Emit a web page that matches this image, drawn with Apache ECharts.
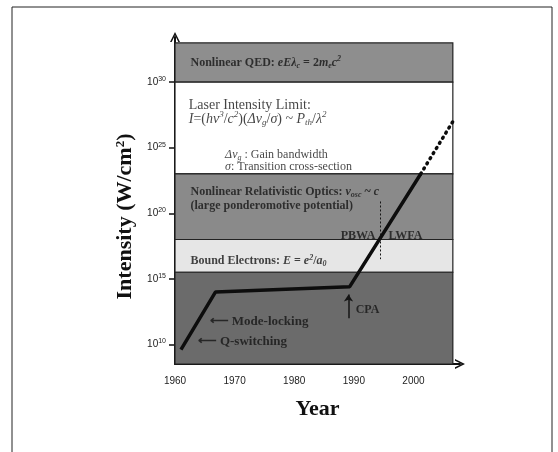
<!DOCTYPE html>
<html>
<head>
<meta charset="utf-8">
<script src="https://cdn.jsdelivr.net/npm/echarts@6/dist/echarts.min.js"></script>
<style>
html, body { margin: 0; padding: 0; background: #fff; }
#chart { width: 558px; height: 452px; }
</style>
</head>
<body>
<div id="chart"></div>
<script>
// focused laser intensity vs year (log10 of W/cm^2)
const lineYears = [1961, 1966.8, 1989.3, 2001.2];
const lineLogI = [9.6, 14.0, 14.4, 23.0];
// dotted projection
const projYears = [2001.2, 2006.6];
const projLogI = [23.0, 27.0];

// physics regimes (log10 of W/cm^2)
const bandLow = [30, 23, 18, 15.5, 8.5];
const bandHigh = [33, 30, 23, 18, 15.5];
const bandEnd = 2006.6;

const yTicks = [10, 15, 20, 25, 30];
const xTicks = [1960, 1970, 1980, 1990, 2000];

// small pointers
const cpaArrowYear = 1989.1;
const cpaArrowLogI = [12.0, 13.8];
const lwfaYear = 1994.4;
const lwfaLogI = [20.9, 16.5];

const bandColors = ['#8e8e8e', '#ffffff', '#8a8a8a', '#e6e6e6', '#6b6b6b'];
const serif = 'Liberation Serif';
const ink = '#151515';

const chart = echarts.init(document.getElementById('chart'));

const rich = {
    b: { fontFamily: serif, fontWeight: 'bold', fontSize: 12, color: ink },
    b13: { fontFamily: serif, fontWeight: 'bold', fontSize: 13, color: ink },
    bi: { fontFamily: serif, fontWeight: 'bold', fontStyle: 'italic', fontSize: 12, color: ink },
    bis: { fontFamily: serif, fontWeight: 'bold', fontStyle: 'italic', fontSize: 8, color: ink, padding: [6, 0, 0, 0] },
    bisup: { fontFamily: serif, fontWeight: 'bold', fontStyle: 'italic', fontSize: 8, color: ink, padding: [0, 0, 7, 0] },
    r: { fontFamily: serif, fontSize: 14, color: ink },
    i: { fontFamily: serif, fontStyle: 'italic', fontSize: 14, color: ink },
    isub: { fontFamily: serif, fontStyle: 'italic', fontSize: 9, color: ink, padding: [7, 0, 0, 0] },
    isup: { fontFamily: serif, fontStyle: 'italic', fontSize: 9, color: ink, padding: [0, 0, 8, 0] },
    s: { fontFamily: serif, fontSize: 12, color: ink },
    si: { fontFamily: serif, fontStyle: 'italic', fontSize: 12, color: ink },
    ssub: { fontFamily: serif, fontStyle: 'italic', fontSize: 8, color: ink, padding: [6, 0, 0, 0] }
};

function note(x, y, text, align) {
    return {
        value: [x, y],
        label: { formatter: text, align: align || 'left' }
    };
}

const notes = [
    note(1962.6, 31.5, '{b|Nonlinear QED: }{bi|eEλ}{bis|c}{b| = 2}{bi|m}{bis|e}{bi|c}{bisup|2}'),
    note(1962.3, 28.25, '{r|Laser Intensity Limit:}'),
    note(1962.3, 27.2, '{i|I}{r|=(}{i|hν}{isup|3}{r|/}{i|c}{isup|2}{r|)(}{i|Δν}{isub|g}{r|/}{i|σ}{r|) ~ }{i|P}{isub|th}{r|/}{i|λ}{isup|2}'),
    note(1968.4, 24.45, '{si|Δν}{ssub|g}{s| : Gain bandwidth}'),
    note(1968.4, 23.55, '{si|σ}{s|: Transition cross-section}'),
    note(1962.6, 21.65, '{b|Nonlinear Relativistic Optics: }{bi|v}{bis|osc}{b| ~ }{bi|c}'),
    note(1962.6, 20.6, '{b|(large ponderomotive potential)}'),
    note(1993.6, 18.3, '{b|PBWA}', 'right'),
    note(1995.8, 18.3, '{b|LWFA}'),
    note(1962.6, 16.35, '{b|Bound Electrons: }{bi|E}{b| = }{bi|e}{bisup|2}{b|/}{bi|a}{bis|0}'),
    note(1965.8, 11.75, '{b13|⟵ Mode-locking}'),
    note(1963.8, 10.2, '{b13|⟵ Q-switching}'),
    note(1990.3, 12.6, '{b|CPA}')
];

const arrowUp = 'path://M0,12 L6,0 L12,12 L10,12 L6,4 L2,12 Z';

const option = {
    animation: false,
    grid: { left: 175, right: 98, top: 37, bottom: 88 },
    graphic: [{
        type: 'rect',
        shape: { x: 12, y: 7, width: 540, height: 470 },
        style: { fill: 'none', stroke: '#222', lineWidth: 1 },
        silent: true
    }],
    xAxis: {
        type: 'value',
        min: 1960,
        max: 2007.8,
        name: 'Year',
        nameLocation: 'middle',
        nameGap: 34,
        nameTextStyle: { fontFamily: serif, fontWeight: 'bold', fontSize: 22, color: '#111' },
        axisLine: {
            lineStyle: { color: '#111', width: 2 },
            symbol: ['none', arrowUp],
            symbolSize: [12, 10]
        },
        axisTick: { customValues: xTicks, inside: true, length: 5, lineStyle: { color: '#111', width: 1.5 } },
        axisLabel: {
            customValues: xTicks,
            margin: 12,
            fontFamily: 'Liberation Sans',
            fontSize: 10,
            color: '#222',
            formatter: v => String(v)
        },
        splitLine: { show: false }
    },
    yAxis: [{
        type: 'value',
        position: 'left',
        min: 8.5,
        max: 33.45,
        name: 'Intensity (W/cm{sup|2})',
        nameLocation: 'middle',
        nameGap: 38,
        nameTextStyle: {
            fontFamily: serif, fontWeight: 'bold', fontSize: 22, color: '#111',
            padding: [0, 32, 0, 0],
            rich: { sup: { fontFamily: serif, fontWeight: 'bold', fontSize: 13, color: '#111', padding: [0, 0, 10, 0] } }
        },
        axisLine: {
            lineStyle: { color: '#111', width: 2 },
            symbol: ['none', arrowUp],
            symbolSize: [12, 10]
        },
        axisTick: { customValues: yTicks, length: 6, lineStyle: { color: '#111', width: 1.5 } },
        axisLabel: {
            customValues: yTicks,
            margin: 9,
            fontFamily: 'Liberation Sans',
            fontSize: 10,
            color: '#222',
            formatter: v => '10{s|' + v + '}',
            rich: { s: { fontFamily: 'Liberation Sans', fontSize: 7, color: '#222', padding: [0, 0, 6, 0] } }
        },
        splitLine: { show: false }
    }, {
        type: 'value',
        position: 'left',
        offset: 0,
        min: 8.5,
        max: 33.45,
        axisLine: { show: false },
        axisTick: { customValues: yTicks, inside: true, length: 5, lineStyle: { color: '#111', width: 1.5 } },
        axisLabel: { show: false },
        splitLine: { show: false }
    }],
    series: [
        {
            name: 'regimes',
            type: 'line',
            data: [],
            z: 1,
            silent: true,
            markArea: {
                silent: true,
                data: bandLow.map((lo, i) => [
                    { xAxis: 1960, yAxis: lo, itemStyle: { color: bandColors[i], borderColor: '#222', borderWidth: 1.2 } },
                    { xAxis: bandEnd, yAxis: bandHigh[i] }
                ])
            }
        },
        {
            name: 'pointers',
            type: 'line',
            data: [],
            z: 3,
            silent: true,
            markLine: {
                silent: true,
                label: { show: false },
                data: [
                    [
                        { coord: [cpaArrowYear, cpaArrowLogI[0]], symbol: 'none' },
                        { coord: [cpaArrowYear, cpaArrowLogI[1]], symbol: 'arrow', symbolSize: 7, lineStyle: { color: ink, width: 1.5, type: 'solid' } }
                    ],
                    [
                        { coord: [lwfaYear, lwfaLogI[0]], symbol: 'none' },
                        { coord: [lwfaYear, lwfaLogI[1]], symbol: 'none', lineStyle: { color: ink, width: 1, type: [2, 2] } }
                    ]
                ]
            }
        },
        {
            name: 'intensity',
            type: 'line',
            data: lineYears.map((x, i) => [x, lineLogI[i]]),
            symbol: 'none',
            z: 4,
            lineStyle: { color: '#0d0d0d', width: 3.5 }
        },
        {
            name: 'projection',
            type: 'line',
            data: projYears.map((x, i) => [x, projLogI[i]]),
            symbol: 'none',
            z: 4,
            lineStyle: { color: '#0d0d0d', width: 3.5, type: [1, 5], cap: 'round' }
        },
        {
            name: 'notes',
            type: 'scatter',
            symbolSize: 0,
            z: 5,
            silent: true,
            data: notes,
            label: {
                show: true,
                position: [0, 0],
                verticalAlign: 'middle',
                rich: rich
            }
        }
    ]
};

chart.setOption(option);
</script>
</body>
</html>
